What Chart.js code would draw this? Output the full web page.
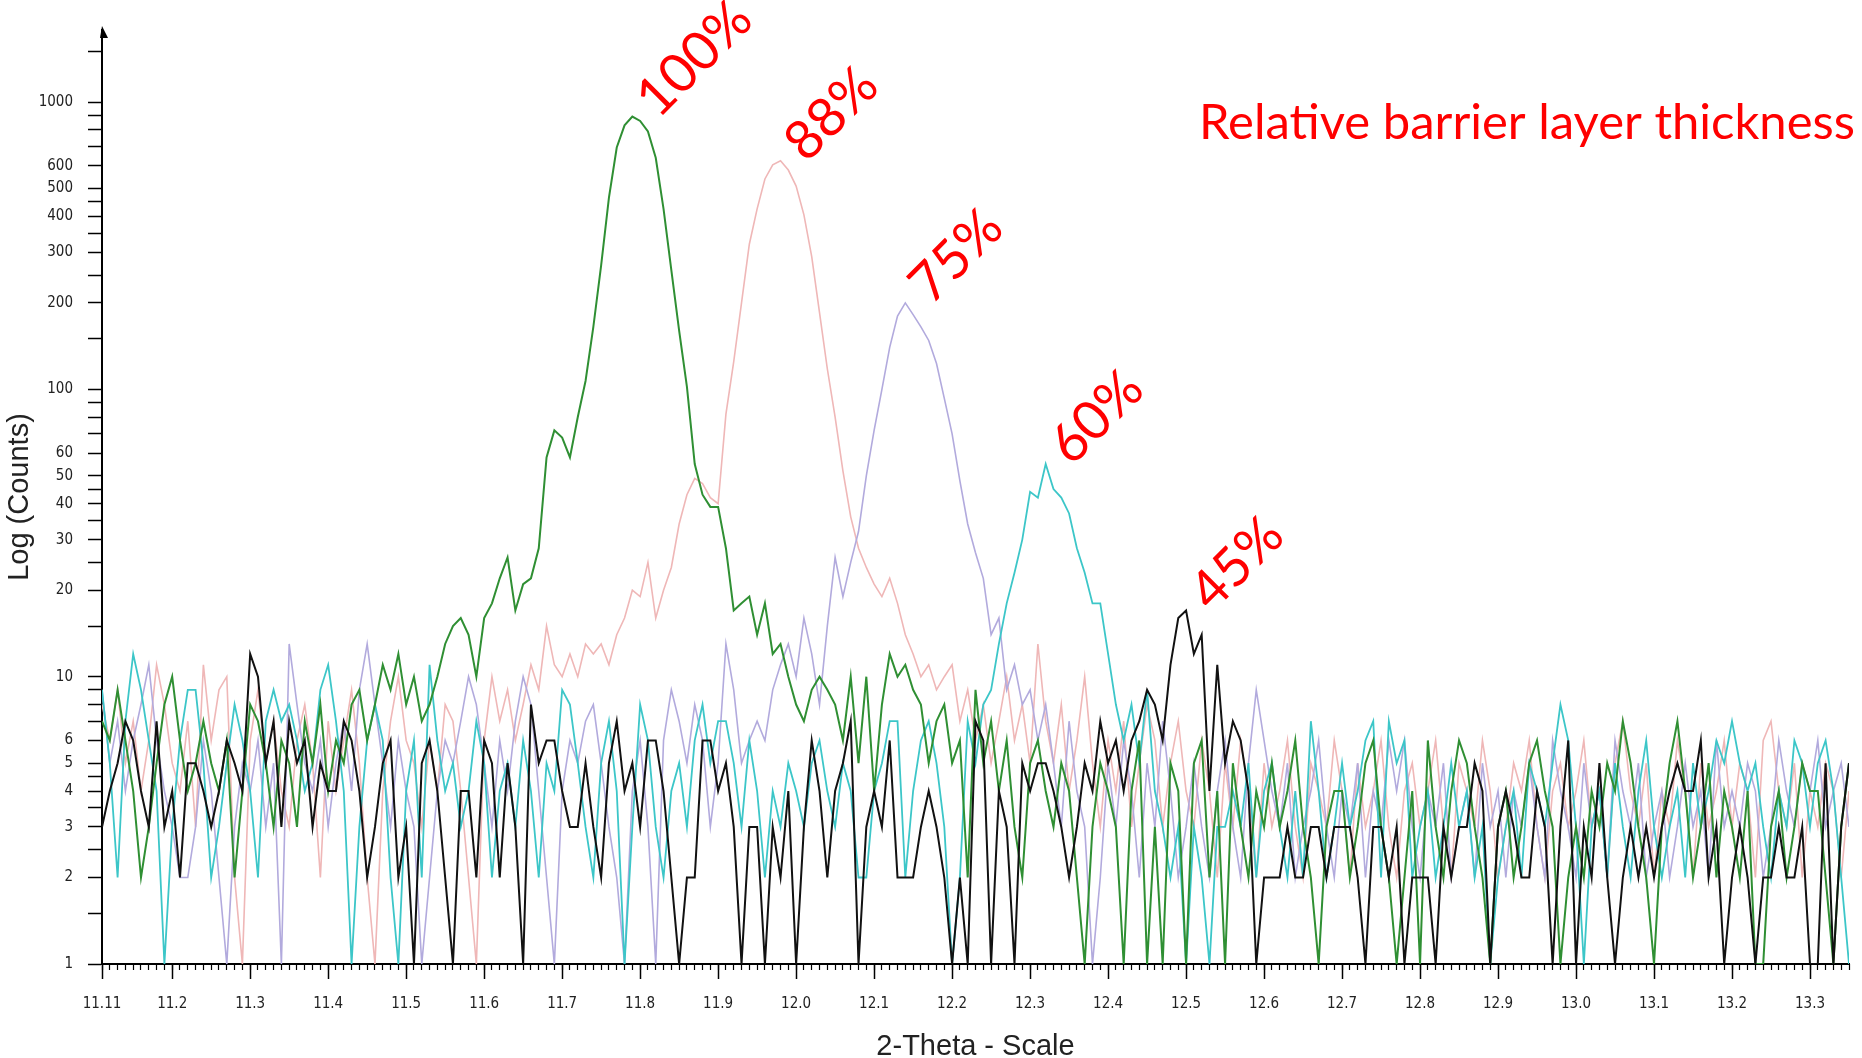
<!DOCTYPE html>
<html>
<head>
<meta charset="utf-8">
<title>XRD 2-Theta scans – barrier layer thickness series</title>
<script src="https://cdn.jsdelivr.net/npm/chart.js@4.4.1/dist/chart.umd.min.js"></script>
<style>
  html, body { margin: 0; padding: 0; background: #fff; }
  canvas { display: block; }
</style>
</head>
<body>
<canvas id="xrd" width="1862" height="1058"></canvas>
<script>
// Scan grid: 2-Theta from 11.11° in 0.01° steps (225 points)
const SCAN_START = 11.11;
const SCAN_STEP = 0.01;

// Counts per step, one row per 0.1° (row 0 = 11.11–11.20 ... last row = 13.31–13.35)
const counts100 = [
  7, 6, 9, 6, 4, 2, 3, 5, 8, 10,
  6, 4, 5, 7, 5, 4, 6, 2, 4, 8,
  7, 5, 3, 6, 5, 3, 7, 5, 8, 4,
  6, 5, 8, 9, 6, 8, 11, 9, 12, 8,
  10, 7, 8, 10, 13, 15, 16, 14, 10, 16,
  18, 22, 26, 17, 21, 22, 28, 58, 72, 68,
  58, 80, 107, 165, 270, 465, 695, 830, 890, 860,
  790, 640, 425, 260, 160, 102, 55, 43, 39, 39,
  28, 17, 18, 19, 14, 18, 12, 13, 10, 8,
  7, 9, 10, 9, 8, 6, 10, 5, 10, 4,
  8, 12, 10, 11, 9, 8, 5, 7, 8, 5,
  6, 2, 9, 5, 7, 4, 6, 3, 2, 5,
  6, 4, 3, 5, 4, 2, 1, 3, 5, 4,
  3, 1, 4, 6, 1, 3, 1, 5, 4, 1,
  5, 6, 2, 4, 1, 5, 3, 2, 4, 3,
  5, 3, 4, 6, 3, 2, 1, 3, 4, 4,
  2, 3, 5, 6, 3, 2, 1, 2, 4, 1,
  6, 3, 2, 4, 6, 5, 3, 2, 1, 3,
  4, 2, 3, 5, 6, 4, 3, 1, 2, 3,
  2, 4, 3, 5, 4, 7, 5, 3, 2, 1,
  3, 5, 7, 4, 2, 3, 5, 2, 4, 3,
  2, 4, 1, 1, 3, 4, 2, 3, 5, 4,
  4, 2, 1, 3, 5
];

const counts88 = [
  8, 6, 9, 5, 7, 4, 6, 11, 8, 5,
  4, 7, 3, 11, 6, 9, 10, 2, 1, 6,
  9, 5, 7, 4, 3, 6, 8, 5, 2, 7,
  4, 6, 9, 5, 2, 1, 4, 7, 10, 6,
  5, 3, 6, 4, 8, 7, 4, 2, 1, 6,
  10, 7, 9, 6, 8, 11, 9, 15, 11, 10,
  12, 10, 13, 12, 13, 11, 14, 16, 20, 19,
  25, 16, 20, 24, 34, 43, 49, 47, 42, 40,
  82, 125, 200, 320, 425, 540, 605, 625, 580, 510,
  405, 290, 185, 118, 80, 52, 36, 28, 24, 21,
  19, 22, 18, 14, 12, 10, 11, 9, 10, 11,
  7, 9, 6, 8, 5, 7, 10, 6, 8, 5,
  13, 7, 5, 8, 4, 6, 10, 5, 3, 6,
  4, 7, 3, 5, 8, 6, 3, 5, 7, 4,
  3, 6, 4, 2, 5, 3, 6, 4, 2, 5,
  3, 4, 6, 3, 2, 5, 4, 3, 6, 4,
  2, 5, 3, 4, 6, 3, 2, 4, 5, 3,
  4, 6, 3, 2, 5, 4, 3, 6, 4, 2,
  3, 5, 4, 6, 3, 2, 4, 5, 3, 4,
  6, 3, 4, 2, 5, 7, 4, 3, 5, 2,
  4, 3, 6, 4, 2, 5, 3, 4, 6, 3,
  5, 4, 2, 6, 7, 4, 3, 5, 2, 4,
  3, 5, 4, 2, 4
];

const counts75 = [
  9, 5, 7, 4, 6, 8, 11, 6, 4, 3,
  2, 2, 3, 6, 4, 2, 1, 3, 5, 4,
  6, 3, 5, 1, 13, 8, 5, 4, 6, 3,
  5, 7, 4, 9, 13, 8, 5, 3, 6, 4,
  3, 1, 2, 4, 6, 5, 7, 10, 8, 5,
  3, 6, 4, 7, 10, 8, 4, 2, 1, 4,
  6, 5, 7, 8, 5, 3, 2, 1, 4, 6,
  3, 1, 6, 9, 7, 5, 8, 6, 3, 5,
  13, 9, 5, 6, 7, 6, 9, 11, 13, 10,
  16, 12, 8, 15, 26, 19, 25, 32, 50, 72,
  100, 140, 180, 200, 182, 165, 148, 123, 93, 70,
  48, 34, 27, 22, 14, 16, 9, 11, 8, 9,
  6, 8, 5, 3, 7, 4, 3, 1, 2, 5,
  3, 6, 4, 2, 5, 3, 7, 4, 2, 3,
  5, 3, 2, 4, 6, 3, 2, 5, 9, 6,
  4, 3, 5, 2, 3, 4, 6, 3, 2, 4,
  3, 5, 2, 4, 3, 6, 4, 6, 3, 2,
  4, 3, 5, 2, 3, 4, 2, 5, 3, 4,
  2, 4, 3, 5, 3, 2, 6, 4, 3, 2,
  5, 3, 4, 2, 6, 4, 3, 5, 2, 3,
  4, 2, 3, 5, 3, 4, 2, 6, 3, 4,
  3, 5, 4, 2, 3, 6, 4, 3, 5, 4,
  6, 3, 4, 5, 3
];

const counts60 = [
  9, 5, 2, 7, 12, 9, 6, 4, 1, 3,
  6, 9, 9, 5, 2, 3, 5, 8, 6, 4,
  2, 7, 9, 7, 8, 6, 4, 5, 9, 11,
  7, 4, 1, 3, 6, 8, 6, 2, 1, 4,
  6, 2, 11, 6, 4, 5, 3, 4, 7, 5,
  2, 4, 5, 3, 6, 4, 2, 5, 4, 9,
  8, 5, 3, 2, 5, 7, 4, 1, 3, 8,
  6, 3, 2, 4, 5, 3, 6, 8, 5, 7,
  7, 5, 3, 6, 4, 2, 4, 3, 5, 4,
  3, 5, 6, 4, 3, 5, 4, 2, 2, 4,
  5, 7, 7, 2, 4, 6, 7, 5, 3, 1,
  2, 7, 5, 8, 9, 13, 18, 23, 30, 44,
  42, 55, 45, 42, 37, 28, 23, 18, 18, 12,
  8, 6, 8, 5, 9, 4, 3, 2, 3, 1,
  3, 2, 1, 3, 3, 4, 3, 5, 2, 4,
  5, 3, 2, 4, 2, 7, 4, 2, 3, 5,
  3, 4, 6, 7, 2, 7, 5, 6, 2, 3,
  4, 2, 3, 5, 3, 4, 2, 3, 1, 2,
  3, 4, 2, 5, 4, 3, 5, 8, 6, 3,
  1, 3, 4, 2, 5, 3, 2, 4, 6, 3,
  2, 3, 4, 2, 5, 3, 4, 6, 5, 7,
  5, 4, 5, 3, 2, 4, 3, 6, 5, 3,
  5, 6, 4, 2, 1
];

const counts45 = [
  3, 4, 5, 7, 6, 4, 3, 7, 3, 4,
  2, 5, 5, 4, 3, 4, 6, 5, 4, 12,
  10, 5, 7, 3, 7, 5, 6, 3, 5, 4,
  4, 7, 6, 4, 2, 3, 5, 6, 2, 3,
  1, 5, 6, 4, 2, 1, 4, 4, 2, 6,
  5, 2, 5, 3, 1, 8, 5, 6, 6, 4,
  3, 3, 5, 3, 2, 5, 7, 4, 5, 3,
  6, 6, 4, 2, 1, 2, 2, 6, 6, 4,
  5, 3, 1, 3, 3, 1, 3, 2, 4, 1,
  3, 6, 4, 2, 4, 5, 7, 1, 3, 4,
  3, 6, 2, 2, 2, 3, 4, 3, 2, 1,
  2, 1, 7, 6, 1, 4, 3, 1, 5, 4,
  5, 5, 4, 3, 2, 3, 5, 4, 7, 5,
  6, 4, 6, 7, 9, 8, 6, 11, 16, 17,
  12, 14, 4, 11, 5, 7, 6, 4, 1, 2,
  2, 2, 3, 2, 2, 3, 3, 2, 3, 3,
  3, 2, 1, 3, 3, 2, 3, 1, 2, 2,
  2, 1, 3, 2, 3, 3, 5, 4, 1, 3,
  4, 3, 2, 2, 4, 3, 1, 3, 6, 1,
  3, 2, 5, 2, 1, 2, 3, 2, 3, 2,
  3, 4, 5, 4, 4, 6, 2, 3, 1, 2,
  3, 2, 1, 2, 2, 3, 2, 2, 3, 1,
  1, 5, 1, 3, 5
];

// Relative barrier layer thickness of each scan
const thicknessLabels = ['45%', '100%', '60%', '75%', '88%'];

// Axis ticks
const xTickValues = [11.11, 11.2, 11.3, 11.4, 11.5, 11.6, 11.7, 11.8, 11.9, 12.0, 12.1, 12.2,
                     12.3, 12.4, 12.5, 12.6, 12.7, 12.8, 12.9, 13.0, 13.1, 13.2, 13.3];
const xTickLabels = ['11.11', '11.2', '11.3', '11.4', '11.5', '11.6', '11.7', '11.8', '11.9', '12.0', '12.1', '12.2',
                     '12.3', '12.4', '12.5', '12.6', '12.7', '12.8', '12.9', '13.0', '13.1', '13.2', '13.3'];
const yTickValues = [1, 1.5, 2, 2.5, 3, 3.5, 4, 4.5, 5, 6, 7, 8, 9,
                     10, 15, 20, 25, 30, 35, 40, 45, 50, 60, 70, 80, 90,
                     100, 150, 200, 250, 300, 350, 400, 450, 500, 600, 700, 800, 900,
                     1000, 1500];
const yTickLabels = ['1', '', '2', '', '3', '', '4', '', '5', '6', '', '', '',
                     '10', '', '20', '', '30', '', '40', '', '50', '60', '', '', '',
                     '100', '', '200', '', '300', '', '400', '', '500', '600', '', '', '',
                     '1000', ''];

const X_MIN = 11.11, X_MAX = 13.35;
const Y_MIN = 1, Y_MAX = 1782;

const twoTheta = counts100.map((_, i) => +(SCAN_START + i * SCAN_STEP).toFixed(2));
const minorTicks = twoTheta.map(v => ({ value: v }));

const tickFont = { family: "'Liberation Sans Narrow', 'DejaVu Sans Condensed', 'Liberation Sans', sans-serif", size: 15 };
const titleFont = { family: "'Liberation Sans', Arial, sans-serif", size: 29, lineHeight: 1 };
const peakFont = "54px Lato, 'Open Sans', sans-serif";
const headingFont = "49px Lato, 'Open Sans', sans-serif";

function series(data, color, width) {
  return {
    data, borderColor: color, borderWidth: width,
    pointRadius: 0, tension: 0, fill: false,
    borderJoinStyle: 'miter', borderCapStyle: 'butt'
  };
}

// Peak labels, axis arrow and heading
const decorations = {
  id: 'decorations',
  afterDraw(chart) {
    const { ctx, chartArea } = chart;
    const yAxis = chart.scales.y;
    ctx.save();

    // arrow head on top of the counts axis
    const ax = yAxis.right;
    ctx.fillStyle = '#000';
    ctx.beginPath();
    ctx.moveTo(ax, chartArea.top - 4);
    ctx.lineTo(ax + 6, chartArea.top + 8);
    ctx.lineTo(ax - 2, chartArea.top + 8);
    ctx.closePath();
    ctx.fill();

    // thickness label above each peak
    ctx.fillStyle = '#ff0000';
    ctx.font = peakFont;
    ctx.textAlign = 'left';
    ctx.textBaseline = 'alphabetic';
    chart.data.datasets.forEach((ds, di) => {
      const meta = chart.getDatasetMeta(di);
      let best = 0;
      ds.data.forEach((v, i) => { if (v > ds.data[best]) best = i; });
      const pt = meta.data[best];
      ctx.save();
      ctx.translate(pt.x + 26, pt.y + 3);
      ctx.rotate(-Math.PI / 4);
      ctx.fillText(thicknessLabels[di], 0, 0);
      ctx.restore();
    });

    // heading
    ctx.font = headingFont;
    ctx.fillText('Relative barrier layer thickness', 1199, 139);
    ctx.restore();
  }
};

new Chart(document.getElementById('xrd'), {
  type: 'line',
  data: {
    labels: twoTheta,
    datasets: [
      series(counts45, '#111111', 2),
      series(counts100, '#2f8f33', 2),
      series(counts60, '#3cc6c8', 1.8),
      series(counts75, '#b2aadd', 1.6),
      series(counts88, '#efb7b7', 1.6)
    ]
  },
  options: {
    responsive: false,
    animation: false,
    events: [],
    layout: { padding: { top: 30, right: 13, bottom: 0, left: 0 } },
    plugins: { legend: { display: false }, tooltip: { enabled: false }, title: { display: false } },
    scales: {
      xMinor: {
        type: 'linear', position: 'bottom', weight: 0,
        min: X_MIN, max: X_MAX,
        afterBuildTicks: s => { s.ticks = minorTicks.slice(); },
        afterFit: s => { s.height = 0; },
        grid: { drawOnChartArea: false, drawTicks: true, tickLength: 6, tickColor: '#000', tickWidth: 1.2 },
        border: { display: false },
        ticks: { display: false, autoSkip: false }
      },
      x: {
        type: 'linear', position: 'bottom', weight: 1,
        min: X_MIN, max: X_MAX,
        afterBuildTicks: s => { s.ticks = xTickValues.map(v => ({ value: v })); },
        afterFit: s => { s.height = 94; },
        grid: { drawOnChartArea: false, drawTicks: true, tickLength: 15, tickColor: '#000', tickWidth: 1.5 },
        border: { display: true, color: '#000', width: 2 },
        ticks: {
          autoSkip: false, maxRotation: 0, minRotation: 0, padding: 16,
          color: '#222', font: tickFont,
          callback: (v, i) => xTickLabels[i]
        },
        title: { display: true, text: '2-Theta - Scale', color: '#222', font: titleFont, padding: { top: 0, bottom: -3 } }
      },
      y: {
        type: 'logarithmic', position: 'left',
        min: Y_MIN, max: Y_MAX,
        afterBuildTicks: s => { s.ticks = yTickValues.map(v => ({ value: v })); },
        afterFit: s => { s.width = 102; },
        grid: { drawOnChartArea: false, drawTicks: true, tickLength: 14, tickColor: '#000', tickWidth: 1.5 },
        border: { display: true, color: '#000', width: 2 },
        ticks: {
          autoSkip: false, padding: 15, color: '#222', font: tickFont,
          callback: (v, i) => yTickLabels[i]
        },
        title: { display: true, text: 'Log (Counts)', color: '#222', font: titleFont, padding: { top: 5, bottom: 0 } }
      }
    }
  },
  plugins: [decorations]
});
</script>
</body>
</html>
